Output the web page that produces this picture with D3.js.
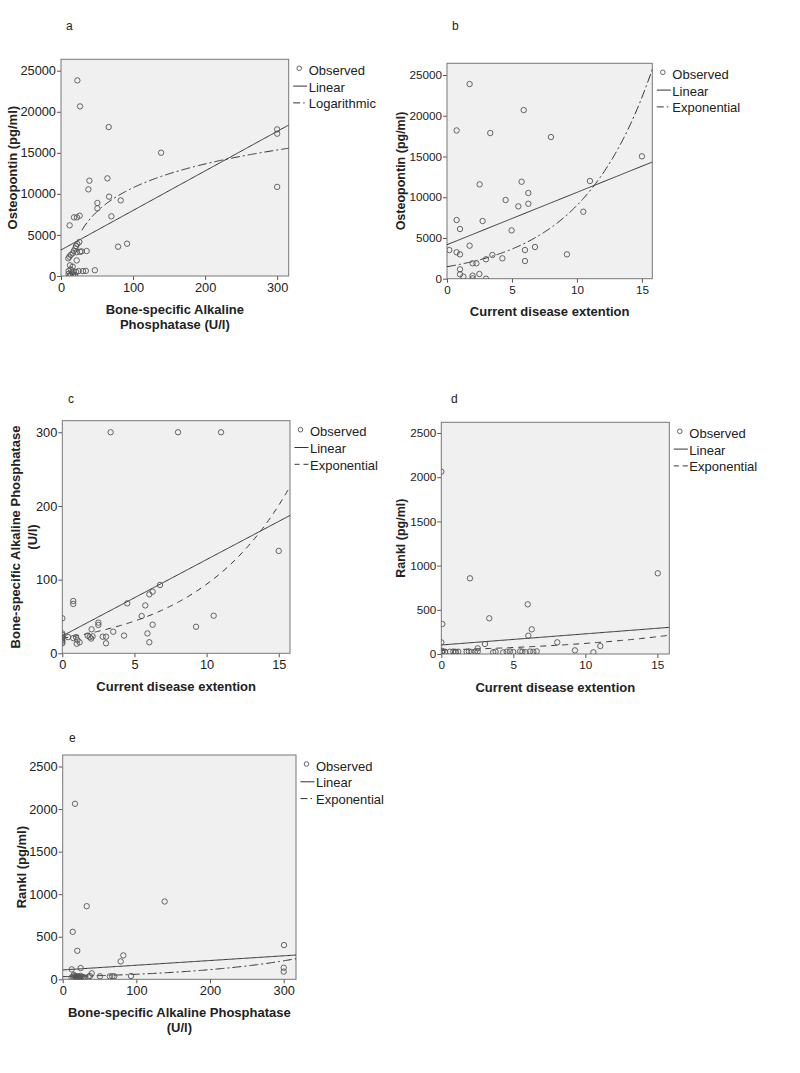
<!DOCTYPE html>
<html><head><meta charset="utf-8">
<script src="https://cdn.jsdelivr.net/npm/d3@7"></script>
<style>
body{margin:0;background:#fff;}
svg{display:block;font-family:"Liberation Sans",Arial,sans-serif;}
</style></head>
<body><svg id="c" width="800" height="1073"></svg>
<script>
// ---------- data ----------
// panel a: BAP (U/l) vs Osteopontin (pg/ml)
const aX = [22.7,26.4,66.2,138.9,300,300,300,39.4,38,64.4,66.7,50.5,50.5,82.9,69.9,18,22.2,25.9,12,79.2,91.7,25.5,35.6,
  22.7,20.8,19.9,18,16.2,13.4,11.6,10.2,28.7,26.4,21.8,21.8,12.5,16.2,13.4,10.5,17.5,15,21,24.5,30.5,34.5,47,10.5,13.5,17,19.5,12.5];
const aY = [23820,20655,18140,15015,17855,17330,10850,11605,10550,11890,9660,8890,8240,9210,7265,7140,7140,7345,6170,3570,3935,4140,3045,
  3895,3650,3370,3085,2760,2560,2350,2150,3000,2950,2900,1900,1300,1140,810,600,550,450,500,600,600,620,700,250,150,200,100,50];
// panel b: Current disease extention vs Osteopontin
const bX = [1.74,5.9,0.74,3.33,8.0,15.0,11.0,5.74,2.51,6.26,6.26,4.51,5.49,10.49,0.74,2.74,1.0,4.97,1.74,0.18,0.74,1.0,3.49,3.0,4.26,6.0,6.77,6.0,9.23,1.97,2.26,1.0,1.0,1.26,1.97,2.49,1.97,3.0];
const bY = [23890,20700,18200,17880,17390,15020,11990,11900,11580,10520,9200,9660,8880,8220,7200,7080,6100,5930,4050,3520,3240,2990,2910,2380,2500,3520,3890,2170,2990,1890,1890,1150,540,245,370,577,50,0];
// panel c: Current disease extention vs BAP
const cX = [3.35,8.02,11.0,15.0,6.77,6.26,6.03,4.5,5.75,0.76,0.76,5.5,10.49,0,2.5,2.5,6.26,9.27,3.53,2.03,4.28,5.9,6.03,3.03,2.8,3.03,1.76,1.9,2.0,2.1,0.95,1.05,1.0,1.2,0.76,0.4,0,0,0,0,0,0,0];
const cY = [300,300,300,139,92.7,83.6,80,67.8,65,71,67,50.6,51,47.5,41.6,38.4,38.8,36,29.3,32.6,24,27,15,22.5,22.5,13.6,24,22,20,23,22,18,13,15,20.6,22,27,25,22.6,20.4,18,15.8,13.6];
// panel d: Current disease extention vs Rankl
const dX = [0,1.99,15.03,6.0,3.33,0.07,6.28,6.04,0,3.03,8.05,11.04,2.53,9.28,10.56,
  0.07,0.07,0.07,0.26,0.6,0.84,1.0,1.0,1.18,1.76,1.92,2.1,2.34,2.53,3.6,3.77,4.3,4.54,4.77,5.0,5.47,5.63,5.86,6.16,6.39,6.62];
const dY = [2062,856,913,562,404,339,279,207,132,113,132,90,64,41,19,
  26,15,35,25,26,28,24,20,26,25,28,22,26,30,20,25,18,26,28,22,30,26,20,28,25,30];
// panel e: BAP vs Rankl
const eX = [16.7,32.6,138.4,13.6,19.8,300.4,82.3,78.7,24.4,12.2,300,300,39.4,92.7,37,50.6,64,67.4,70,
  12,14,16,17,18,19,20,21,22,23,24,25,26,28,30,35,15,18,21];
const eY = [2062,859,914,558,335,402,281,211,132,117,136,90,70,39,39,35,35,35,35,
  20,30,15,40,25,35,20,30,15,25,40,20,30,25,20,30,50,10,12];

// fitted model parameters
const aLinear = [3165, 48.16];      // y = a + b x
const aLogarithmic = [-8500, 4180]; // y = a + b ln x
const bLinear = [4174, 642.3];
const bExponential = [1473, 0.181]; // y = a e^(b x)
const cLinear = [23.5, 10.37];
const cExponential = [20.4, 0.1525];
const dLinear = [102, 12.6];
const dExponential = [45, 0.098];
const eLinear = [110, 0.553];
const eExponential = [31, 0.00649];

// tick values
const ticksOPN = [0,5000,10000,15000,20000,25000];
const ticksRANKL = [0,500,1000,1500,2000,2500];
const ticksBAPy = [0,100,200,300];
const ticksBAPx = [0,100,200,300];
const ticksExt = [0,5,10,15];

// ---------- drawing ----------
const svg = d3.select("#c");
const DASHDOT = "9,3,2,3";
const DASH = "6,5";

const lin = p => x => p[0] + p[1]*x;
const logf = p => x => p[0] + p[1]*Math.log(x);
const expf = p => x => p[0]*Math.exp(p[1]*x);

const panels = [
  {label:"a", lx:66, ly:26, f:{l:61,t:59.3,r:288.7,b:276}, xd:[0,316], yd:[0,26390], xs:aX, ys:aY, tf:12.8, ytf:13,
   xt:ticksBAPx, yt:ticksOPN, xtitle:["Bone-specific Alkaline","Phosphatase (U/l)"], ytitle:["Osteopontin (pg/ml)"], ytx:[12],
   curves:[{name:"Linear", f:lin(aLinear), x0:0, dash:null},{name:"Logarithmic", f:logf(aLogarithmic), x0:29, dash:DASHDOT}]},
  {label:"b", lx:452, ly:26, f:{l:447,t:63.3,r:652.3,b:278.7}, xd:[0,15.8], yd:[0,26440], xs:bX, ys:bY, tf:11.7, ytf:12.5,
   xt:ticksExt, yt:ticksOPN, xtitle:["Current disease extention"], ytitle:["Osteopontin (pg/ml)"], ytx:[401],
   curves:[{name:"Linear", f:lin(bLinear), x0:0, dash:null},{name:"Exponential", f:expf(bExponential), x0:0, dash:DASHDOT}]},
  {label:"c", lx:68, ly:399, f:{l:62.3,t:420.7,r:290,b:653.3}, xd:[0,15.78], yd:[0,315.7], xs:cX, ys:cY, tf:12.8, ytf:13,
   xt:ticksExt, yt:ticksBAPy, xtitle:["Current disease extention"], ytitle:["Bone-specific Alkaline Phosphatase","(U/l)"], ytx:[15,32],
   curves:[{name:"Linear", f:lin(cLinear), x0:0, dash:null},{name:"Exponential", f:expf(cExponential), x0:0, dash:DASH}]},
  {label:"d", lx:451, ly:399, f:{l:441.3,t:422.3,r:669.3,b:654}, xd:[0,15.83], yd:[0,2621], xs:dX, ys:dY, tf:11.7, ytf:12.5,
   xt:ticksExt, yt:ticksRANKL, xtitle:["Current disease extention"], ytitle:["Rankl (pg/ml)"], ytx:[401],
   curves:[{name:"Linear", f:lin(dLinear), x0:0, dash:null},{name:"Exponential", f:expf(dExponential), x0:0, dash:DASH}]},
  {label:"e", lx:69, ly:738, f:{l:62.7,t:755,r:296,b:979.3}, xd:[0,316.7], yd:[0,2635], xs:eX, ys:eY, tf:12.8, ytf:13,
   xt:ticksBAPx, yt:ticksRANKL, xtitle:["Bone-specific Alkaline Phosphatase","(U/l)"], ytitle:["Rankl (pg/ml)"], ytx:[21],
   curves:[{name:"Linear", f:lin(eLinear), x0:0, dash:null},{name:"Exponential", f:expf(eExponential), x0:0, dash:DASHDOT}]}
];

panels.forEach((P,i) => {
  const F = P.f;
  const x = d3.scaleLinear().domain(P.xd).range([F.l, F.r]);
  const y = d3.scaleLinear().domain(P.yd).range([F.b, F.t]);
  const g = svg.append("g");

  g.append("text").attr("x", P.lx).attr("y", P.ly).attr("dominant-baseline","central")
    .attr("font-size", 12).attr("fill","#222").text(P.label);

  g.append("rect").attr("x",F.l).attr("y",F.t).attr("width",F.r-F.l).attr("height",F.b-F.t)
    .attr("fill","#f0f0f0");

  const clipId = "clip"+i;
  svg.append("clipPath").attr("id",clipId).append("rect")
    .attr("x",F.l).attr("y",F.t).attr("width",F.r-F.l).attr("height",F.b-F.t);

  // axes
  const xa = g.append("g").attr("transform",`translate(0,${F.b})`)
    .call(d3.axisBottom(x).tickValues(P.xt).tickSize(4).tickPadding(3).tickFormat(d3.format("d")));
  const ya = g.append("g").attr("transform",`translate(${F.l},0)`)
    .call(d3.axisLeft(y).tickValues(P.yt).tickSize(4).tickPadding(1).tickFormat(d3.format("d")));
  [xa,ya].forEach(a => {
    a.select(".domain").remove();
    a.selectAll("line").attr("stroke","#555");
    a.selectAll("text").attr("font-size",P.tf).attr("fill","#222").attr("font-family","Liberation Sans, Arial, sans-serif");
  });

  // frame
  g.append("rect").attr("x",F.l).attr("y",F.t).attr("width",F.r-F.l).attr("height",F.b-F.t)
    .attr("fill","none").attr("stroke","#777").attr("stroke-width",1);

  // curves
  const cg = g.append("g").attr("clip-path",`url(#${clipId})`);
  P.curves.forEach(c => {
    const xs = d3.range(c.x0, P.xd[1], (P.xd[1]-c.x0)/200).concat([P.xd[1]]);
    const line = d3.line().x(d=>x(d)).y(d=>y(c.f(d)));
    cg.append("path").datum(xs).attr("d",line).attr("fill","none")
      .attr("stroke","#333").attr("stroke-width",1)
      .attr("stroke-dasharray", c.dash);
  });

  // points
  cg.selectAll("circle.pt").data(P.xs.map((v,k)=>[v,P.ys[k]])).join("circle")
    .attr("cx",d=>x(d[0])).attr("cy",d=>y(d[1])).attr("r",2.7)
    .attr("fill","none").attr("stroke","#555").attr("stroke-width",0.9);

  // axis titles
  const xc = (F.l+F.r)/2;
  P.xtitle.forEach((t,k) => {
    g.append("text").attr("x",xc).attr("y",F.b+33+k*15).attr("dominant-baseline","central")
      .attr("text-anchor","middle").attr("font-size",13).attr("font-weight","bold").attr("fill","#222").text(t);
  });
  const yc = (F.t+F.b)/2;
  P.ytitle.forEach((t,k) => {
    g.append("text").attr("transform",`translate(${P.ytx[k]},${yc}) rotate(-90)`)
      .attr("dominant-baseline","central").attr("text-anchor","middle")
      .attr("font-size",P.ytf).attr("font-weight","bold").attr("fill","#222").text(t);
  });

  // legend
  const lg = g.append("g");
  const rows = [{name:"Observed"}].concat(P.curves);
  rows.forEach((r,k) => {
    const ry = F.t + 10 + k*16.8;
    if (k===0) {
      lg.append("circle").attr("cx",F.r+10.5).attr("cy",ry-1).attr("r",2.3)
        .attr("fill","none").attr("stroke","#555").attr("stroke-width",0.9);
    } else {
      lg.append("line").attr("x1",F.r+4.5).attr("x2",F.r+18.5).attr("y1",ry).attr("y2",ry)
        .attr("stroke","#333").attr("stroke-width",1).attr("stroke-dasharray", r.dash ? (r.dash===DASH?"5,4":"7,3,1.5,3") : null);
    }
    lg.append("text").attr("x",F.r+20).attr("y",ry+1).attr("dominant-baseline","central")
      .attr("font-size",13).attr("fill","#222").text(r.name);
  });
});
</script></body></html>
